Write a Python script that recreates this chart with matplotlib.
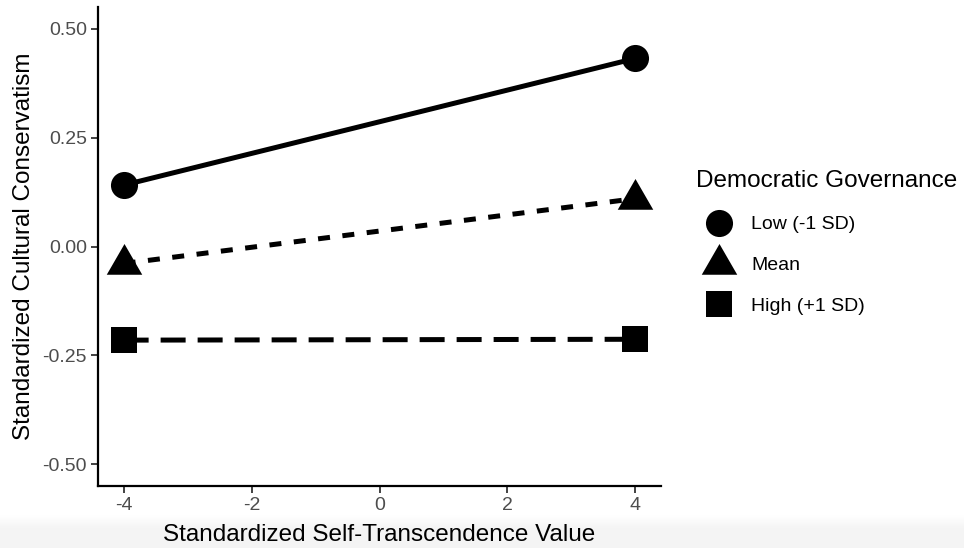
import numpy as np
import matplotlib
matplotlib.use("Agg")
import matplotlib.pyplot as plt
from matplotlib.lines import Line2D

plt.rcParams['font.family'] = ['Liberation Sans', 'DejaVu Sans']

# simple slopes: x at -4 and +4 for three levels of the moderator
x_vals = [-4, 4]
groups = ['Low (-1 SD)', 'Mean', 'High (+1 SD)']
low = [0.141, 0.432]
mean = [-0.039, 0.110]
high = [-0.215, -0.213]
series = [low, mean, high]

x_ticks = [-4, -2, 0, 2, 4]
y_ticks = [-0.50, -0.25, 0.00, 0.25, 0.50]

# R-like triangle (pch 17), centred on its centroid
tri = [(0, 1.555), (1.347, -0.778), (-1.347, -0.778), (0, 1.555)]
markers = ['o', tri, 's']
msizes = [19.5, 29.5, 18.5]
lw = 3.6
dashes = [None, (2.4, 2.5), (5.0, 2.4)]

fig = plt.figure(figsize=(9.64, 5.48), dpi=100)

# faint grey band at the bottom (screenshot edge)
bg = fig.add_axes([0, 0, 1, 0.06], zorder=-5)
grad = np.clip(np.linspace(0, 2.5, 60), 0, 1).reshape(-1, 1)
bg.imshow(grad, aspect='auto', cmap='Greys', vmin=0, vmax=11, extent=[0, 1, 0, 1])
bg.axis('off')

ax = fig.add_axes([0.1017, 0.1131, 0.5840, 0.8741])

for vals, m, ms, d in zip(series, markers, msizes, dashes):
    line, = ax.plot(x_vals, vals, color='black', lw=lw, solid_capstyle='butt')
    if d is not None:
        line.set_dashes(d)
        line.set_dash_capstyle('butt')
    ax.plot(x_vals, vals, linestyle='none', marker=m, ms=ms, color='black', mec='black', mew=0)

ax.set_xlim(-4.4, 4.4)
ax.set_ylim(-0.55, 0.55)
ax.set_xticks(x_ticks)
ax.set_xticklabels([str(t) for t in x_ticks])
ax.set_yticks(y_ticks)
ax.set_yticklabels(['%.2f' % t for t in y_ticks])

for s in ['top', 'right']:
    ax.spines[s].set_visible(False)
for s in ['left', 'bottom']:
    ax.spines[s].set_linewidth(1.6)
    ax.spines[s].set_color('black')
ax.tick_params(axis='both', length=5, width=1.3, color='#333333', labelsize=14, labelcolor='#4D4D4D', pad=3)

ax.set_xlabel('Standardized Self-Transcendence Value', fontsize=17.5, color='black', labelpad=7)
ax.set_ylabel('Standardized Cultural Conservatism', fontsize=17.5, color='black', labelpad=5)

handles = [Line2D([], [], linestyle='none', marker=m, ms=ms, color='black', mew=0)
           for m, ms in zip(markers, msizes)]
leg = fig.legend(handles, groups, loc='upper left', bbox_to_anchor=(0.722, 0.689),
                 frameon=False, fontsize=14, title='Democratic Governance', title_fontsize=17.5,
                 alignment='left', handletextpad=0.45, labelspacing=1.2, handlelength=2.4,
                 borderaxespad=0, borderpad=0)

fig.savefig('out.png', dpi=100)
